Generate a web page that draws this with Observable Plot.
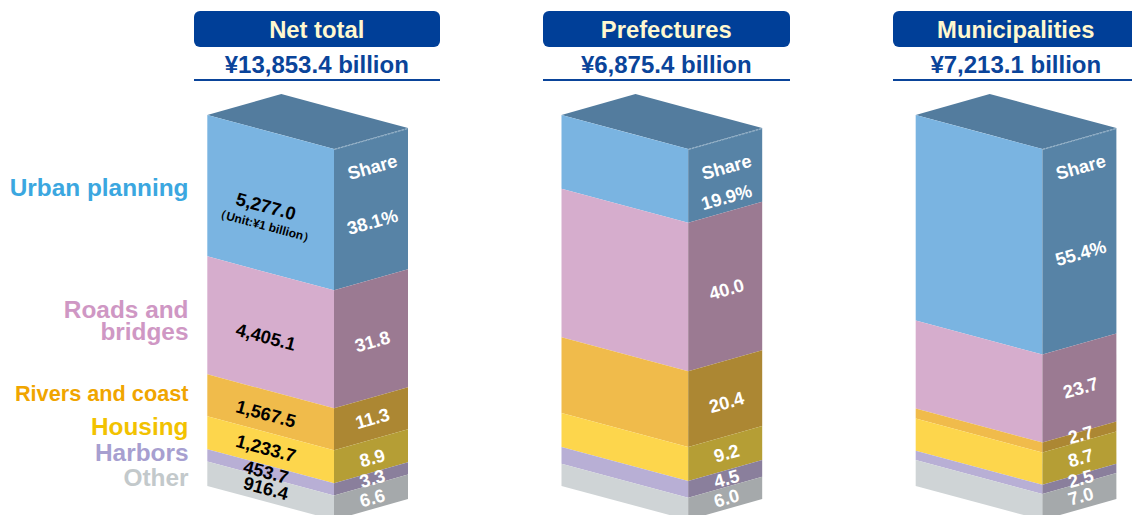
<!DOCTYPE html>
<html>
<head>
<meta charset="utf-8">
<script src="https://cdn.jsdelivr.net/npm/d3@7"></script>
<script src="https://cdn.jsdelivr.net/npm/@observablehq/plot@0.6"></script>
<style>
  html, body { margin: 0; padding: 0; background: #fff; overflow: hidden; width: 1132px; height: 515px; }
  #page { position: relative; width: 1132px; height: 515px; overflow: hidden; font-family: "Liberation Sans", Arial, sans-serif; font-weight: 700; }
  #head { position: relative; height: 85px; }
  .pill { position: absolute; top: 10.5px; width: 246.5px; height: 36.5px; line-height: 38px; border-radius: 6px; background: #003f98; color: #fff8cf; font-size: 23.8px; text-align: center; }
  .tot { position: absolute; top: 50px; width: 246.5px; height: 28.5px; line-height: 29px; border-bottom: 2px solid #0a449a; color: #0a449a; font-size: 24px; text-align: center; }
  svg { display: block; }
</style>
</head>
<body>
<div id="page"><div id="head"></div><div id="chart"></div></div>
<script>
// ---- data ----
const groups = ["Net total", "Prefectures", "Municipalities"];
const totals = ["¥13,853.4 billion", "¥6,875.4 billion", "¥7,213.1 billion"];
const categories = ["Urban planning", "Roads and bridges", "Rivers and coast", "Housing", "Harbors", "Other"];
const netValues = [5277.0, 4405.1, 1567.5, 1233.7, 453.7, 916.4];
const netShares = [38.1, 31.8, 11.3, 8.9, 3.3, 6.6];
const prefectureShares = [19.9, 40.0, 20.4, 9.2, 4.5, 6.0];
const municipalityShares = [55.4, 23.7, 2.7, 8.7, 2.5, 7.0];
const shares = [netShares, prefectureShares, municipalityShares];

// ---- styles ----
const frontColors = ["#7ab4e1", "#d6adcd", "#f0bb4b", "#fdd64c", "#b8afd5", "#cfd4d6"];
const sideColors = ["#5783a6", "#9b7a92", "#ac8733", "#b59e35", "#8a7f9c", "#a5a9ab"];
const topColor = "#537c9e";
const labelColors = ["#3ba7e0", "#cf97c4", "#f0a500", "#f2c200", "#a79fd0", "#c3c9cb"];

// ---- layout (pixels of the page) ----
const headH = 85, W = 1132, H = 515 - headH;
const pill0 = 193.5, pillStep = 349.5;
const block0 = 207.3, blockStep = 354.2;
const frontW = 126.7, sideW = 74;
const frontTopPx = 115, pxPerShare = 3.71;
const frontDrop = 34, sideRise = 21;
const px = p => p / pxPerShare;                    // pixels -> share units
const pageY = p => (p - frontTopPx) / pxPerShare;  // page y -> share units

// header
const head = document.getElementById("head");
groups.forEach((g, i) => {
  const left = pill0 + i * pillStep;
  const a = document.createElement("div"); a.className = "pill"; a.style.left = left + "px"; a.textContent = g;
  const b = document.createElement("div"); b.className = "tot"; b.style.left = left + "px"; b.textContent = totals[i];
  head.append(a, b);
});

// faces
const front = [], side = [], topFace = [], edge = [];
const frontLabels = [], sideLabels = [], shareHeads = [];
const sideNudge = [[13, 3, 0, 2, 0, 1], [22, 3, 4, 0, 0, 0], [12, 0, -2, 0, 0, 0]];
const frontNudge = [5, 6, 3, 0, 1, -1];
groups.forEach((g, b) => {
  const L = block0 + b * blockStep, M = L + frontW, R = M + sideW;
  const apex = L + sideW;
  const frontAt = x => px(frontDrop * (x - L) / frontW);
  const sideAt = x => px(frontDrop - sideRise * (x - M) / sideW);
  let cum = 0;
  categories.forEach((c, k) => {
    const s = shares[b][k], y0 = cum, y1 = cum + s;
    cum = y1;
    for (const x of [L, M]) front.push({key: c, id: b + c, x, y1: y0 + frontAt(x), y2: y1 + frontAt(x)});
    for (const x of [M, R]) side.push({key: c + " side", id: b + c, x, y1: y0 + sideAt(x), y2: y1 + sideAt(x)});
    const mid = (y0 + y1) / 2;
    if (b === 0) {
      const x = L + 58;
      frontLabels.push({x, y: mid + frontAt(x) + px(frontNudge[k]), text: d3.format(",.1f")(netValues[k])});
    }
    const sx = M + 38;
    sideLabels.push({x: sx, y: mid + sideAt(sx) + px(sideNudge[b][k]), text: s.toFixed(1) + (k === 0 ? "%" : "")});
  });
  // roof
  const backY = -px(21);
  const roofLow = x => frontAt(x);
  const roofHigh = x => x <= apex ? backY * (x - L) / sideW : backY + (px(128 - 94)) * (x - apex) / (R - apex);
  for (const x of [L, apex, M, R]) {
    topFace.push({id: b, x, y1: roofHigh(x), y2: x <= M ? roofLow(x) : sideAt(x)});
  }
  edge.push({id: b, x: M, y: sideAt(M)}, {id: b, x: R, y: sideAt(R)});
  shareHeads.push({x: M + 38, y: pageY(167), text: "Share"});
});

// row labels
const rowLabels = [
  {text: "Urban planning", y: 188, c: 0},
  {text: "Roads and\nbridges", y: 321, c: 1},
  {text: "Housing", y: 427, c: 3},
  {text: "Harbors", y: 453, c: 4},
  {text: "Other", y: 478, c: 5}
].map(d => ({...d, y: pageY(d.y), name: categories[d.c]}));
const riversLabel = [{text: "Rivers and coast", y: pageY(393.5), c: 2}];

const font = {fontFamily: "'Liberation Sans', Arial, sans-serif", fontWeight: 700};
const frontAngle = 15, sideAngle = -15.8;
const chart = Plot.plot({
  width: W, height: H, margin: 0,
  style: {background: "transparent"},
  x: {axis: null, domain: [0, W], range: [0, W]},
  y: {axis: null, domain: [pageY(headH), pageY(515)], range: [0, H]},
  color: {
    type: "ordinal",
    domain: [...categories, ...categories.map(c => c + " side")],
    range: [...frontColors, ...sideColors]
  },
  marks: [
    Plot.area(topFace, {x1: "x", y1: "y1", y2: "y2", z: "id", fill: topColor, curve: "linear"}),
    Plot.area(front, {x1: "x", y1: "y1", y2: "y2", z: "id", fill: "key", curve: "linear"}),
    Plot.area(side, {x1: "x", y1: "y1", y2: "y2", z: "id", fill: "key", curve: "linear"}),
    Plot.line(edge, {x: "x", y: "y", z: "id", stroke: "#a9c0d2", strokeWidth: 0.8, strokeDasharray: "2,1.5"}),
    Plot.text(rowLabels, {x: () => 188, y: "y", text: "text", textAnchor: "end", fontSize: 24.4, lineHeight: 0.9, fill: d => labelColors[d.c], ...font}),
    Plot.text(riversLabel, {x: () => 188, y: "y", text: "text", textAnchor: "end", fontSize: 21.7, fill: d => labelColors[d.c], ...font}),
    Plot.text(frontLabels, {x: "x", y: "y", text: "text", rotate: frontAngle, fontSize: 18.3, fill: "#000", ...font}),
    Plot.text([{x: block0 + 57, y: pageY(225.5), text: "（Unit:¥1 billion）"}], {x: "x", y: "y", text: "text", rotate: frontAngle, fontSize: 12, fill: "#000", ...font}),
    Plot.text(sideLabels, {x: "x", y: "y", text: "text", rotate: sideAngle, fontSize: 18.3, fill: "#fff", ...font}),
    Plot.text(shareHeads, {x: "x", y: "y", text: "text", rotate: sideAngle, fontSize: 18.3, fill: "#fff", ...font})
  ]
});
document.getElementById("chart").append(chart);
</script>
</body>
</html>
